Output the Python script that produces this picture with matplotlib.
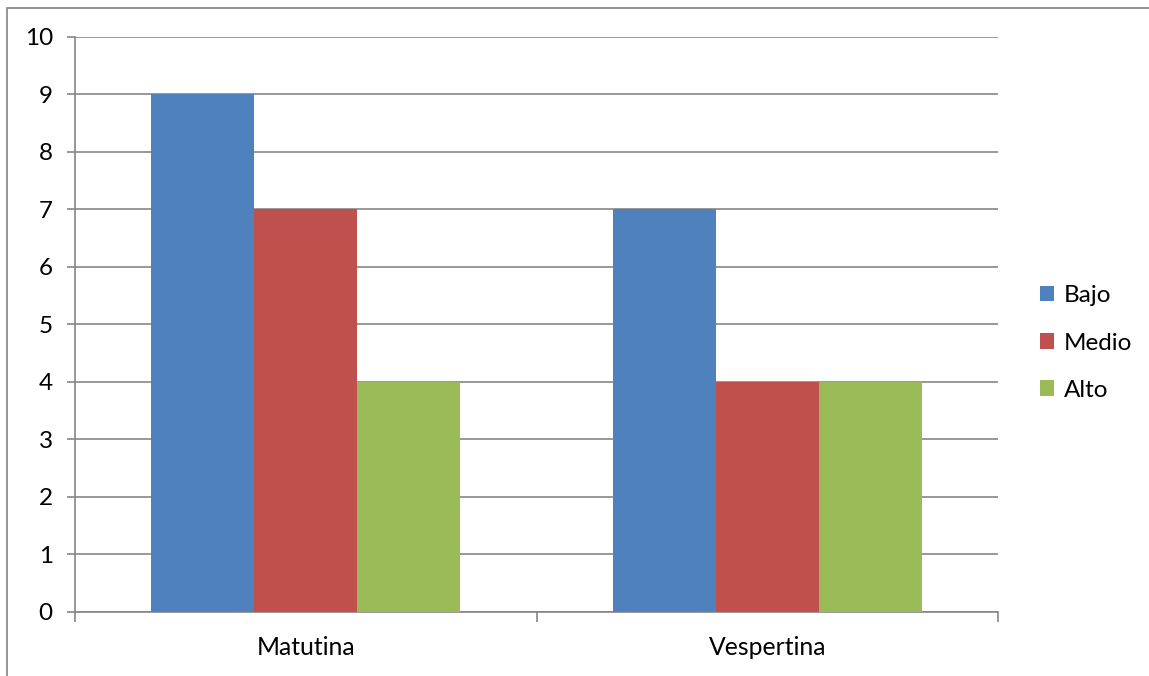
import matplotlib.pyplot as plt
import numpy as np

plt.rcParams['font.family'] = ['Lato', 'DejaVu Sans']

turnos = ['Matutina', 'Vespertina']
niveles = ['Bajo', 'Medio', 'Alto']
valores = {
    'Bajo': [9, 7],
    'Medio': [7, 4],
    'Alto': [4, 4],
}
colores = ['#4F81BD', '#C0504D', '#9BBB59']
grid_color = '#868686'

fig = plt.figure(figsize=(11.49, 6.76), dpi=100)
ax = fig.add_axes([0.0653, 0.0947, 0.8033, 0.8506])

# outer chart border
fig.patches.append(plt.Rectangle((0.0061, -0.05), 1.2, 1.038, transform=fig.transFigure,
                                 fill=False, edgecolor='#8c8c8c', linewidth=1.3))

x = np.arange(len(turnos))
w = 0.223
for i, (nivel, c) in enumerate(zip(niveles, colores)):
    ax.bar(x + (i - 1) * w, valores[nivel], width=w, color=c, label=nivel, zorder=3)

ax.set_xlim(-0.5, 1.5)
ax.set_ylim(0, 10)
ax.set_yticks(range(0, 11))
ax.yaxis.grid(True, color=grid_color, linewidth=1.2, zorder=0)
ax.set_axisbelow(True)

ax.set_xticks([-0.5, 0.5, 1.5])
ax.set_xticklabels([])
ax.set_xticks(x, minor=True)
ax.set_xticklabels(turnos, minor=True)
ax.tick_params(axis='x', which='minor', length=0, pad=17, labelsize=17.8)
ax.tick_params(axis='x', which='major', length=7, width=1.2, color=grid_color, direction='out')
ax.tick_params(axis='y', length=6, width=1.2, color=grid_color, pad=10, labelsize=17.5)

for s in ['top', 'right']:
    ax.spines[s].set_visible(False)
for s in ['left', 'bottom']:
    ax.spines[s].set_color(grid_color)
    ax.spines[s].set_linewidth(1.2)

ax.legend(loc='center left', bbox_to_anchor=(0.886, 0.4926), bbox_transform=fig.transFigure,
          frameon=False, fontsize=17.5, handlelength=0.6, handleheight=0.6,
          handletextpad=0.4, labelspacing=1.08)

fig.savefig('out.png', dpi=100)
